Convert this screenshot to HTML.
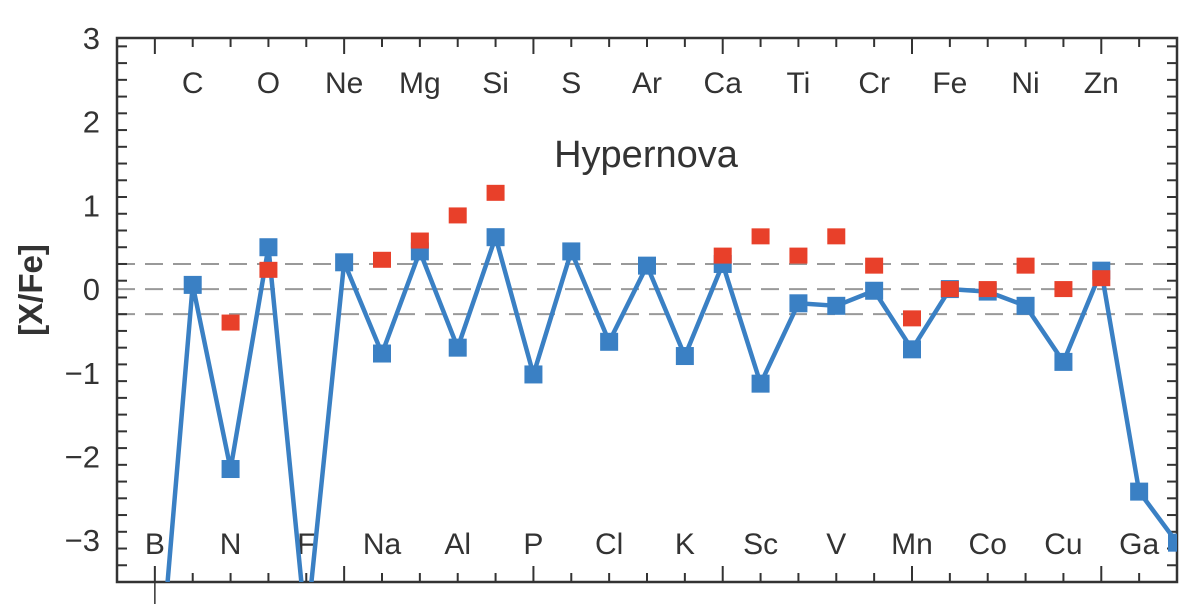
<!DOCTYPE html>
<html><head><meta charset="utf-8"><style>
html,body{margin:0;padding:0;background:#fff;overflow:hidden;width:1200px;height:609px}
svg{display:block}
text{font-family:"Liberation Sans","DejaVu Sans",sans-serif}
</style></head><body>
<svg id="chart" width="1200" height="609" viewBox="0 0 1200 609" xmlns="http://www.w3.org/2000/svg">
<defs><clipPath id="pc"><rect x="117" y="38" width="1060" height="544"/></clipPath></defs>
<g id="grid"></g>
<g id="axes"></g>
<g id="labels"></g>
<g id="series" clip-path="url(#pc)"></g>
<text x="646" y="167" font-size="38" text-anchor="middle" fill="#333">Hypernova</text>
<text transform="translate(42,290) rotate(-90)" font-size="33" font-weight="bold" text-anchor="middle" fill="#333">[X/Fe]</text>
</svg>
<script>
const elements=["B","C","N","O","F","Ne","Na","Mg","Al","Si","P","S","Cl","Ar","K","Ca","Sc","Ti","V","Cr","Mn","Fe","Co","Ni","Cu","Zn","Ga","Ge"];
const atomicNumbers=[5,6,7,8,9,10,11,12,13,14,15,16,17,18,19,20,21,22,23,24,25,26,27,28,29,30,31,32];
const modelValues=[-5.3,0.05,-2.15,0.5,-4.1,0.32,-0.77,0.45,-0.7,0.62,-1.02,0.45,-0.63,0.28,-0.8,0.3,-1.13,-0.17,-0.2,-0.02,-0.72,0.0,-0.03,-0.2,-0.87,0.22,-2.42,-3.03];
const obsElements=["N","O","Na","Mg","Al","Si","Ca","Sc","Ti","V","Cr","Mn","Fe","Co","Ni","Cu","Zn"];
const obsValues=[-0.4,0.23,0.35,0.58,0.88,1.15,0.4,0.63,0.4,0.63,0.28,-0.35,0.0,0.0,0.28,0.0,0.13];
const yTicks=[3,2,1,0,-1,-2,-3];
const yTickLabels=["3","2","1","0","\u22121","\u22122","\u22123"];
const refLines=[0.3,0,-0.3];

const X0=117,X1=1177,Y0=38,Y1=582,ZMIN=4,ZMAX=32,YMAX=3,YMIN=-3.5;
const sx=z=>X0+(z-ZMIN)/(ZMAX-ZMIN)*(X1-X0);
const sy=v=>Y0+(YMAX-v)/(YMAX-YMIN)*(Y1-Y0);
const NS="http://www.w3.org/2000/svg";
function mk(tag,attrs,parent){const e=document.createElementNS(NS,tag);for(const k in attrs)e.setAttribute(k,attrs[k]);parent.appendChild(e);return e;}
const grid=document.getElementById('grid'),axes=document.getElementById('axes'),labels=document.getElementById('labels'),series=document.getElementById('series');

refLines.forEach(v=>{const l=mk('line',{x1:X0,x2:X1,y1:sy(v),y2:sy(v),stroke:'#999','stroke-width':2,'stroke-dasharray':'18,10'},grid);

});

const fr=mk('rect',{x:X0,y:Y0,width:X1-X0,height:Y1-Y0,fill:'none',stroke:'#333','stroke-width':2.5},axes);


for(let v=-3.5;v<=3.001;v+=0.2){const vv=Math.round(v*10)/10;const major=Math.abs(vv-Math.round(vv))<0.01;const len=major?20:10;
mk('line',{x1:X0,x2:X0+len,y1:sy(vv),y2:sy(vv),stroke:'#333','stroke-width':2},axes);
mk('line',{x1:X1,x2:X1-len,y1:sy(vv),y2:sy(vv),stroke:'#333','stroke-width':2},axes);}
yTicks.forEach((v,i)=>{const t=mk('text',{x:100,y:sy(v)+11,'font-size':31,'text-anchor':'end',fill:'#333'},axes);t.textContent=yTickLabels[i];

});
for(let z=ZMIN+1;z<ZMAX;z++){const len=z%5===0?16:9;
mk('line',{x1:sx(z),x2:sx(z),y1:Y0,y2:Y0+len,stroke:'#333','stroke-width':2},axes);
mk('line',{x1:sx(z),x2:sx(z),y1:Y1,y2:Y1-len,stroke:'#333','stroke-width':2},axes);}
mk('line',{x1:sx(5),x2:sx(5),y1:Y1,y2:604,stroke:'#333','stroke-width':1.5},axes);

elements.forEach((el,i)=>{const z=atomicNumbers[i];if(z>31)return;const top=z%2===0;
const t=mk('text',{x:sx(z),y:top?93:554,'font-size':30,'text-anchor':'middle',fill:'#333'},labels);t.textContent=el;

});

const pts=modelValues.map((v,i)=>sx(atomicNumbers[i])+','+sy(v)).join(' ');
const pl=mk('polyline',{points:pts,fill:'none',stroke:'#3a80c4','stroke-width':4.5,'stroke-linejoin':'round'},series);


modelValues.forEach((v,i)=>{const r=mk('rect',{x:sx(atomicNumbers[i])-9,y:sy(v)-9,width:18,height:18,fill:'#3a80c4'},series);

});
obsValues.forEach((v,i)=>{const z=atomicNumbers[elements.indexOf(obsElements[i])];
const r=mk('rect',{x:sx(z)-9,y:sy(v)-8,width:18,height:16,fill:'#e8402a'},series);

});
</script>
</body></html>
